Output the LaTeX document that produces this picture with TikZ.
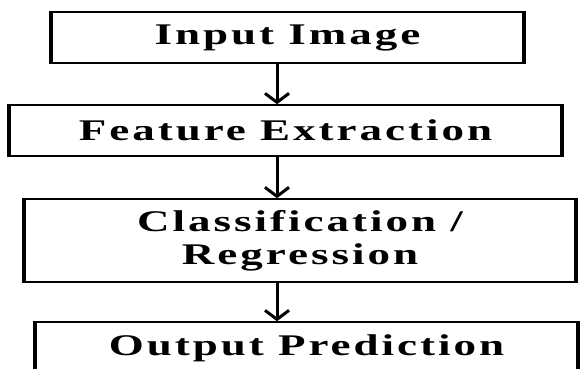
\documentclass[tikz,border=0pt]{standalone}
\usepackage{fontspec}
\usetikzlibrary{arrows.meta}
\newfontfamily\boxfont{Liberation Serif}[FakeStretch=1.5,LetterSpace=10]
\tikzset{
  stage/.style={draw=black, line width=1.6pt, rectangle, inner sep=0pt, align=center,
    font=\boxfont\bfseries\fontsize{30}{33}\selectfont},
  side/.style={line width=4.5pt, line cap=butt},
  flow/.style={line width=3pt, -{Straight Barb[length=9pt,width=24pt,line width=3pt]}}
}
\begin{document}
\begin{tikzpicture}[x=1pt,y=-1pt]
\useasboundingbox (0,0) rectangle (583,369);
\clip (0,0) rectangle (583,369);
\node[stage, minimum width=471pt, minimum height=51pt] (in) at (287.5,37.5) {Input Image};
\node[stage, minimum width=551pt, minimum height=51pt] (fe) at (285.5,130.5) {Feature Extraction};
\node[stage, minimum width=550pt, minimum height=83pt] (cl) at (300,240.5) {Classification /\\Regression};
\node[stage, minimum width=541pt, minimum height=52pt] (op) at (306.5,348) {Output Prediction};
\foreach \n in {in,fe,cl,op}{
  \draw[side] (\n.north west) -- (\n.south west);
  \draw[side] (\n.north east) -- (\n.south east);
}
\coordinate (ax) at (277,0);
\draw[flow] (in.south -| ax) -- (fe.north -| ax);
\draw[flow] (fe.south -| ax) -- (cl.north -| ax);
\draw[flow] (cl.south -| ax) -- (op.north -| ax);
\end{tikzpicture}
\end{document}
